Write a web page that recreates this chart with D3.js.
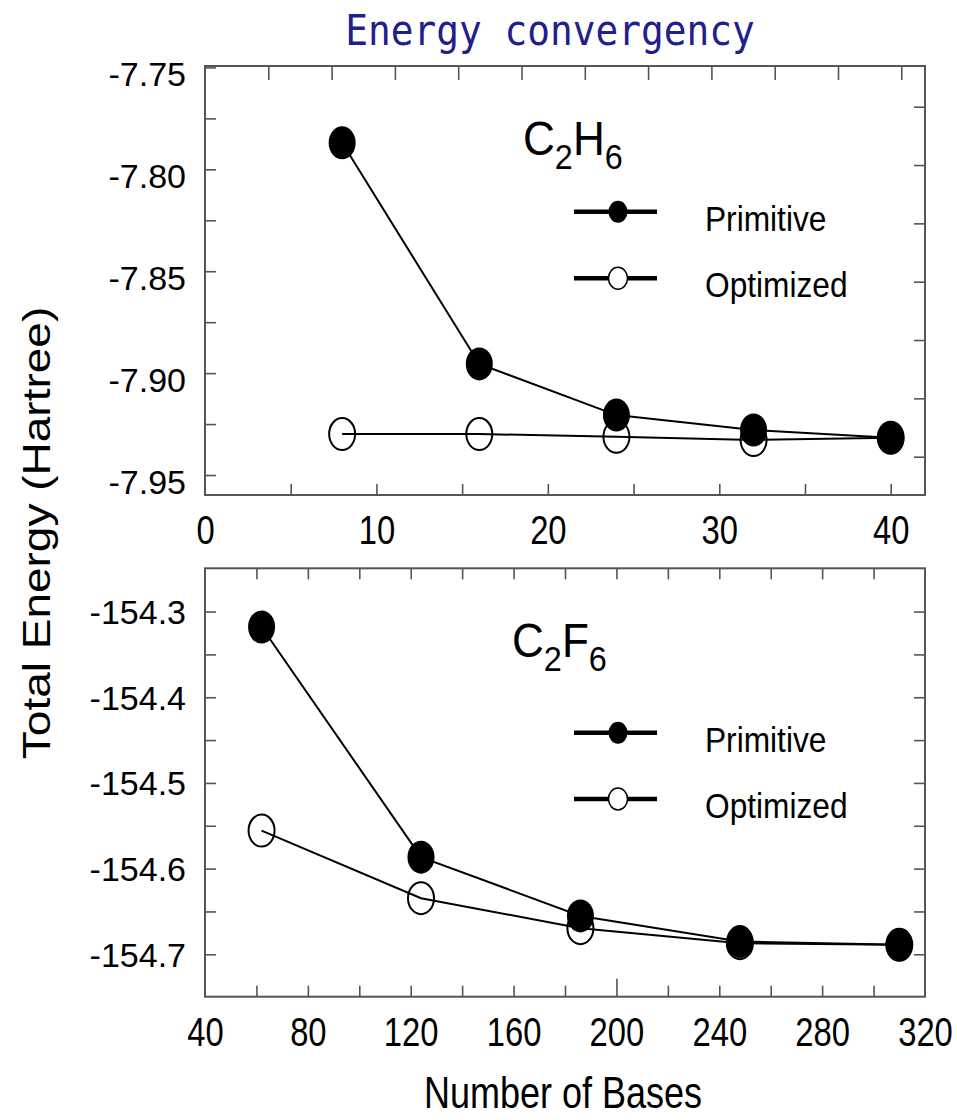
<!DOCTYPE html>
<html>
<head>
<meta charset="utf-8">
<script src="https://cdn.jsdelivr.net/npm/d3@7"></script>
<style>
  html, body { margin: 0; padding: 0; background: #fff; }
  svg { display: block; }
  text { font-family: "Liberation Sans", Arial, Helvetica, sans-serif; fill: #000; }
</style>
</head>
<body>
<div id="chart"></div>
<script>
const WIDTH = 957;
const HEIGHT = 1120;

// ---- data ----
const seriesNames = ['Primitive', 'Optimized'];

const basesC2H6 = [8, 16, 24, 32, 40];
const primitiveC2H6 = [-7.787, -7.8955, -7.9206, -7.9279, -7.9317];
const optimizedC2H6 = [-7.9299, -7.9299, -7.9312, -7.9328, -7.9317];

const basesC2F6 = [62, 124, 186, 248, 310];
const primitiveC2F6 = [-154.318, -154.5866, -154.6552, -154.6852, -154.689];
const optimizedC2F6 = [-154.5556, -154.6345, -154.6695, -154.687, -154.689];

const xTicksC2H6 = [0, 10, 20, 30, 40];
const yTicksC2H6 = [-7.75, -7.80, -7.85, -7.90, -7.95];
const xTicksC2F6 = [40, 80, 120, 160, 200, 240, 280, 320];
const yTicksC2F6 = [-154.3, -154.4, -154.5, -154.6, -154.7];

const titleText = 'Energy convergency';
const yTitle = 'Total Energy (Hartree)';
const xTitle = 'Number of Bases';

// ---- layout ----
const LEFT = 205;
const RIGHT = 925;
const TICK = 11;
const FRAME = '#555';

const panels = [
  {
    formula: [['C', false], ['2', true], ['H', false], ['6', true]],
    formulaAt: [523, 155],
    bases: basesC2H6, primitive: primitiveC2H6, optimized: optimizedC2H6,
    xDomain: [0, 42], yDomain: [-7.9598, -7.7493], top: 66, bottom: 495,
    xTicks: xTicksC2H6, yTicks: yTicksC2H6, decimals: 2, labelShift: 6,
    xMinor: d3.range(1, 9).map((i) => i * 5),
    yMinor: d3.range(0, 9).map((i) => -7.95 + i * 0.025),
    // the mirrored top/right ticks of this panel do not line up with the labelled ones
    topMirror: { domain: [0, 720 / 63.3], ticks: d3.range(1, 12) },
    rightMirror: { domain: [-40.7 / 58.33, (429 - 40.7) / 58.33], ticks: d3.range(0, 7) },
    legendY: [211.7, 278.3],
  },
  {
    formula: [['C', false], ['2', true], ['F', false], ['6', true]],
    formulaAt: [512, 657],
    bases: basesC2F6, primitive: primitiveC2F6, optimized: optimizedC2F6,
    xDomain: [40, 320], yDomain: [-154.7495, -154.2495], top: 568.3, bottom: 996.7,
    xTicks: xTicksC2F6, yTicks: yTicksC2F6, decimals: 1, labelShift: 0,
    xMinor: d3.range(1, 14).map((i) => 40 + i * 20),
    yMinor: d3.range(0, 9).map((i) => -154.7 + i * 0.05),
    topMirror: null,
    rightMirror: null,
    legendY: [732.7, 799],
  },
];

const svg = d3
  .select('#chart')
  .append('svg')
  .attr('width', WIDTH)
  .attr('height', HEIGHT);

// title
svg
  .append('text')
  .attr('transform', 'translate(550, 45) scale(0.9, 1)')
  .attr('text-anchor', 'middle')
  .style('font-family', '"DejaVu Sans Mono", monospace')
  .style('font-size', '42px')
  .style('fill', '#20208c')
  .text(titleText);

// shared axis titles
svg
  .append('text')
  .attr('transform', 'translate(50, 533) rotate(-90) scale(1, 0.86)')
  .attr('text-anchor', 'middle')
  .style('font-size', '46px')
  .text(yTitle);

svg
  .append('text')
  .attr('transform', 'translate(563, 1108) scale(0.8, 1)')
  .attr('text-anchor', 'middle')
  .style('font-size', '45px')
  .text(xTitle);

function styleTicks(sel) {
  sel.select('.domain').remove();
  sel.selectAll('line').attr('stroke', FRAME).attr('stroke-width', 1.6);
}

function drawPanel(p) {
  const x = d3.scaleLinear().domain(p.xDomain).range([LEFT, RIGHT]);
  const y = d3.scaleLinear().domain(p.yDomain).range([p.bottom, p.top]);
  const g = svg.append('g');

  // inward ticks on all four sides
  g.append('g')
    .attr('transform', `translate(${LEFT},0)`)
    .call(d3.axisLeft(y).tickValues(p.yMinor).tickSize(-TICK).tickFormat(''))
    .call(styleTicks);

  g.append('g')
    .attr('transform', `translate(0,${p.bottom})`)
    .call(
      d3.axisBottom(x).tickValues(p.xMinor).tickFormat('')
        .tickSize(-TICK)
    )
    .call(styleTicks)
    .call((s) =>
      // the 200 tick of the lower panel is drawn a bit longer
      s.selectAll('line').attr('y2', (d) => (p.decimals === 1 && d === 200 ? -18 : -TICK))
    );

  if (p.topMirror) {
    const xt = d3.scaleLinear().domain(p.topMirror.domain).range([LEFT, RIGHT]);
    g.append('g')
      .attr('transform', `translate(0,${p.top})`)
      .call(d3.axisTop(xt).tickValues(p.topMirror.ticks).tickSize(-14).tickFormat(''))
      .call(styleTicks);
  } else {
    g.append('g')
      .attr('transform', `translate(0,${p.top})`)
      .call(d3.axisTop(x).tickValues(p.xMinor).tickSize(-TICK).tickFormat(''))
      .call(styleTicks);
  }

  if (p.rightMirror) {
    const yr = d3.scaleLinear().domain(p.rightMirror.domain).range([p.top, p.bottom]);
    g.append('g')
      .attr('transform', `translate(${RIGHT},0)`)
      .call(d3.axisRight(yr).tickValues(p.rightMirror.ticks).tickSize(-TICK).tickFormat(''))
      .call(styleTicks);
  } else {
    g.append('g')
      .attr('transform', `translate(${RIGHT},0)`)
      .call(d3.axisRight(y).tickValues(p.yMinor).tickSize(-TICK).tickFormat(''))
      .call(styleTicks);
  }

  // frame
  g.append('rect')
    .attr('x', LEFT)
    .attr('y', p.top)
    .attr('width', RIGHT - LEFT)
    .attr('height', p.bottom - p.top)
    .attr('fill', 'none')
    .attr('stroke', FRAME)
    .attr('stroke-width', 2);

  // tick labels
  g.append('g')
    .attr('transform', `translate(${LEFT},0)`)
    .call(
      d3.axisLeft(y).tickValues(p.yTicks).tickSize(0).tickPadding(19)
        .tickFormat((d) => d.toFixed(p.decimals))
    )
    .call((s) => s.select('.domain').remove())
    .call((s) =>
      s.selectAll('text')
        .attr('dy', null)
        .attr('y', 12 + p.labelShift)
        .style('font-size', '34px')
        .style('font-family', '"Liberation Sans", Arial, sans-serif')
        .attr('fill', '#000')
    );

  g.append('g')
    .attr('transform', `translate(0,${p.bottom})`)
    .call(d3.axisBottom(x).tickValues(p.xTicks).tickSize(0).tickPadding(21).tickFormat((d) => d))
    .call((s) => s.select('.domain').remove())
    .call((s) =>
      s.selectAll('text')
        .attr('transform', 'scale(0.82, 1)')
        .style('font-size', '40px')
        .style('font-family', '"Liberation Sans", Arial, sans-serif')
        .attr('fill', '#000')
    );

  // series
  const line = d3
    .line()
    .x((d) => x(d[0]))
    .y((d) => y(d[1]));

  const opt = d3.zip(p.bases, p.optimized);
  const prim = d3.zip(p.bases, p.primitive);

  g.append('path')
    .datum(opt)
    .attr('fill', 'none')
    .attr('stroke', '#000')
    .attr('stroke-width', 2)
    .attr('d', line);

  g.selectAll('.opt')
    .data(opt)
    .enter()
    .append('ellipse')
    .attr('class', 'opt')
    .attr('cx', (d) => x(d[0]))
    .attr('cy', (d) => y(d[1]))
    .attr('rx', 13)
    .attr('ry', 16)
    .attr('fill', 'none')
    .attr('stroke', '#000')
    .attr('stroke-width', 2);

  g.append('path')
    .datum(prim)
    .attr('fill', 'none')
    .attr('stroke', '#000')
    .attr('stroke-width', 2)
    .attr('d', line);

  g.selectAll('.prim')
    .data(prim)
    .enter()
    .append('ellipse')
    .attr('class', 'prim')
    .attr('cx', (d) => x(d[0]))
    .attr('cy', (d) => y(d[1]))
    .attr('rx', 13.5)
    .attr('ry', 16.5)
    .attr('fill', '#000');

  // molecule label
  const f = g
    .append('text')
    .attr('transform', `translate(${p.formulaAt[0]},${p.formulaAt[1]}) scale(0.9, 1)`)
    .style('font-size', '49px');
  p.formula.forEach(([t, sub], i) => {
    const prevSub = i > 0 && p.formula[i - 1][1];
    f.append('tspan')
      .attr('dy', sub ? 14 : prevSub ? -14 : 0)
      .style('font-size', sub ? '36px' : '49px')
      .text(t);
  });

  // legend
  seriesNames.forEach((name, i) => {
    const ly = p.legendY[i];
    g.append('line')
      .attr('x1', 574)
      .attr('x2', 657)
      .attr('y1', ly)
      .attr('y2', ly)
      .attr('stroke', '#000')
      .attr('stroke-width', 4.5);
    g.append('ellipse')
      .attr('cx', 618)
      .attr('cy', ly)
      .attr('rx', 9.5)
      .attr('ry', 11)
      .attr('fill', i === 0 ? '#000' : '#fff')
      .attr('stroke', '#000')
      .attr('stroke-width', i === 0 ? 0 : 1.5);
    g.append('text')
      .attr('transform', `translate(705,${ly + 19}) scale(0.88, 1)`)
      .style('font-size', '36px')
      .text(name);
  });
}

panels.forEach(drawPanel);
</script>
</body>
</html>
